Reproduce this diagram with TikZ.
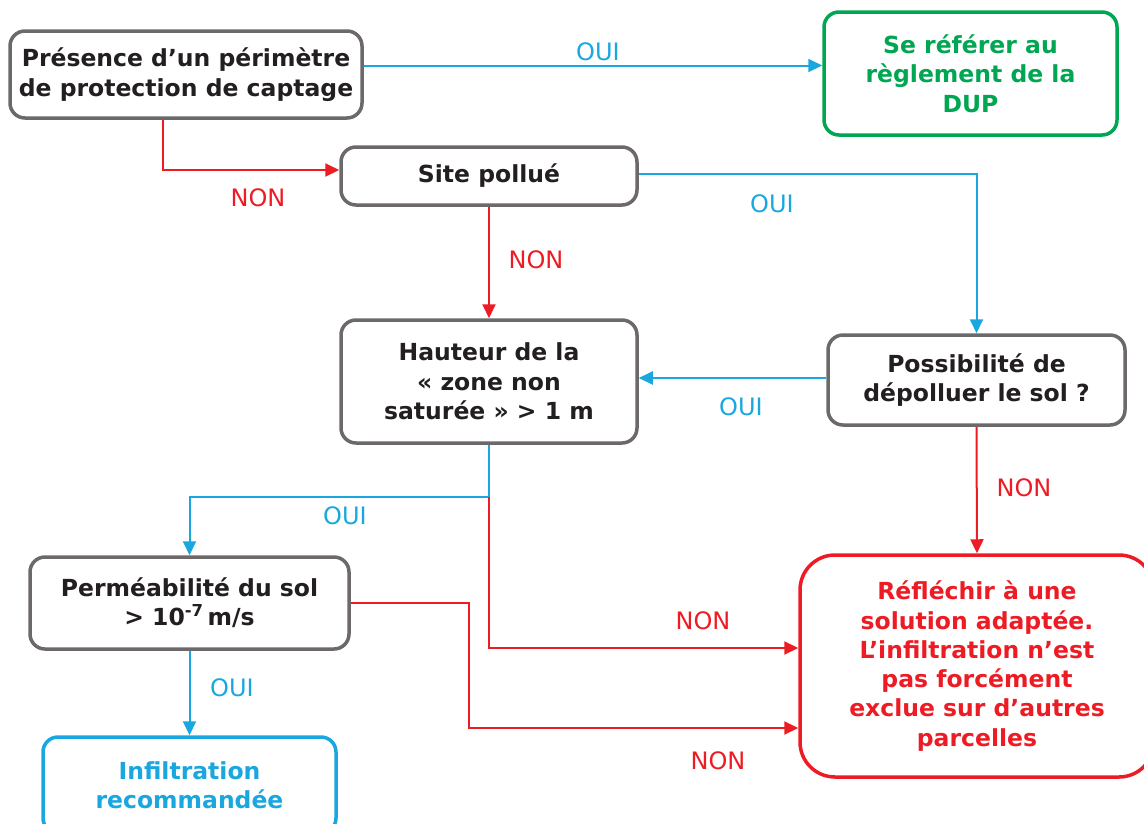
\documentclass[tikz,border=0pt]{standalone}
\usepackage{fontspec}
\setmainfont{DejaVu Sans}
\usetikzlibrary{arrows.meta}
\definecolor{cgray}{HTML}{6D6869}
\definecolor{ctext}{HTML}{231F20}
\definecolor{cblue}{HTML}{1AA7E0}
\definecolor{cred}{HTML}{ED1C24}
\definecolor{cgreen}{HTML}{00A651}
\tikzset{
  box/.style={draw=cgray, line width=3.5pt, rounded corners=15pt, fill=white,
    align=center, inner sep=0pt, text=ctext,
    font=\fontsize{23.5}{29.3}\selectfont\bfseries},
  greenbox/.style={box, draw=cgreen, text=cgreen},
  bluebox/.style={box, draw=cblue, text=cblue},
  redbox/.style={box, draw=cred, text=cred, rounded corners=35pt},
  yes/.style={draw=cblue, line width=2pt, -{Triangle[length=14pt,width=13pt]}},
  no/.style={draw=cred, line width=2pt, -{Triangle[length=14pt,width=13pt]}},
  yeslbl/.style={text=cblue, font=\fontsize{24}{28}\selectfont, inner sep=0pt},
  nolbl/.style={text=cred, font=\fontsize{24}{28}\selectfont, inner sep=0pt},
}
\begin{document}
\begin{tikzpicture}[x=1pt, y=-1pt]
\useasboundingbox (0,0) rectangle (1144,823);
\clip (0,0) rectangle (1144,823);
% decision boxes
\node[box, minimum width=352pt, minimum height=87pt] (p) at (186,74.5)
  {Présence d’un périmètre\\de protection de captage};
\node[greenbox, minimum width=293pt, minimum height=123pt] (d) at (970.5,73.5)
  {Se référer au\\règlement de la\\DUP};
\node[box, minimum width=296pt, minimum height=58pt] (s) at (489,176)
  {Site pollué};
\node[box, minimum width=296pt, minimum height=123pt] (h) at (489,381.5)
  {Hauteur de la\\« zone non\\saturée » > 1 m};
\node[box, minimum width=297pt, minimum height=90pt] (o) at (976.5,380)
  {Possibilité de\\dépolluer le sol ?};
\node[box, minimum width=319pt, minimum height=92pt] (m) at (189.5,603)
  {Perméabilité du sol\\> 10\textsuperscript{-7}\,m/s};
\node[bluebox, minimum width=293pt, minimum height=96pt] (i) at (189.5,785)
  {Infiltration\\recommandée};
\node[redbox, minimum width=354pt, minimum height=222pt] (r) at (977,666)
  {Réfléchir à une\\solution adaptée.\\L’infiltration n’est\\pas forcément\\exclue sur d’autres\\parcelles};
% junction below the height test
\coordinate (hj) at (489,497);
% connectors
\draw[yes] ([yshift=9pt]p.east) -- ([yshift=9pt]p.east -| d.west);
\draw[no] ([xshift=-23pt]p.south) |- ([yshift=6pt]s.west);
\draw[yes] ([yshift=2pt]s.east) -| (o.north);
\draw[no] (s.south) -- (h.north);
\draw[yes] ([yshift=2pt]o.west) -- ([yshift=2pt]o.west -| h.east);
\draw[no] (o.south) -- (r.north);
\draw[yes] (h.south) -- (hj) -| (m.north);
\draw[no] (hj) |- ([yshift=18pt]r.west);
\draw[no] (m.east) -- ++(118,0) |- ([yshift=-62pt]r.west);
\draw[yes] (m.south) -- (i.north);
% branch labels
\node[yeslbl] (l1) at (598,52) {OUI};
\node[nolbl] (l2) at (258,198) {NON};
\node[yeslbl] (l3) at (772,204) {OUI};
\node[nolbl] (l4) at (536,260) {NON};
\node[yeslbl] (l5) at (741,407) {OUI};
\node[nolbl] (l6) at (1024,488) {NON};
\node[yeslbl] (l7) at (345,516) {OUI};
\node[nolbl] (l8) at (703,621) {NON};
\node[nolbl] (l9) at (718,761) {NON};
\node[yeslbl] (l10) at (232,688) {OUI};
\end{tikzpicture}
\end{document}
